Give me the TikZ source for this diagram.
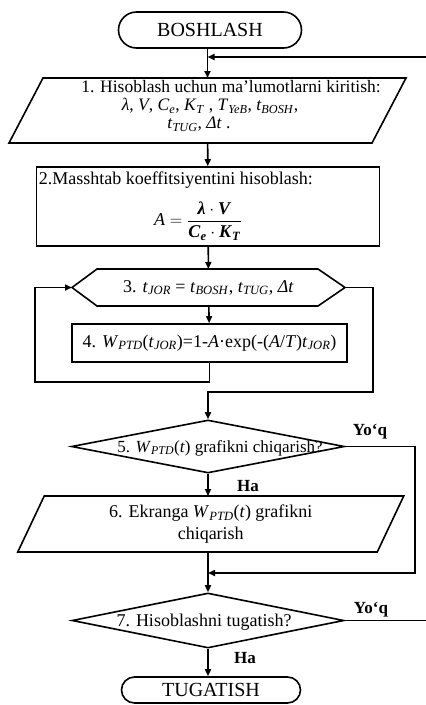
\documentclass[tikz,border=0pt]{standalone}
\usepackage{amsmath}
\usepackage{fontspec}
\setmainfont{Liberation Serif}
\usetikzlibrary{shapes.geometric,arrows.meta}

\newcommand{\isub}[2]{\textit{#1}\textsubscript{\textit{#2}}}
\newcommand{\bfit}[1]{\textbf{\textit{#1}}}

\begin{document}
\begin{tikzpicture}[
    x=1pt, y=-1pt,
    line width=1.6pt,
    font=\fontsize{18}{20}\selectfont,
    terminal/.style={draw, rectangle, inner sep=0pt, font=\fontsize{20}{22}\selectfont},
    io/.style={rectangle, inner sep=0pt, outer sep=0pt},
    process/.style={draw, rectangle, inner sep=0pt},
    decision/.style={draw, diamond, inner sep=2pt},
    flow/.style={-{Triangle[length=7pt,width=6pt]}},
    answer/.style={font=\bfseries\fontsize{17}{19}\selectfont}
  ]
  \useasboundingbox (0,0) rectangle (426,705);

  % Start and input of the data
  \node[terminal, minimum width=183pt, minimum height=36pt, rounded corners=18pt] (start) at (210,30) {BOSHLASH};
  \node[io, minimum width=363pt, minimum height=65pt] (input) at (207.5,110.5) {};
  \draw ([xshift=17pt]input.north west) -- ([xshift=17pt]input.north east)
    -- ([xshift=-17pt]input.south east) -- ([xshift=-17pt]input.south west) -- cycle;
  \node[anchor=north, inner sep=0pt, align=center, font=\fontsize{17.5}{18}\selectfont] (inputtxt) at (210,79.5)
    {\hspace*{42pt}1. Hisoblash uchun ma'lumotlarni kiritish:\\
     \textit{λ}, \textit{V}, \isub{C}{e}, \isub{K}{T} , \isub{T}{YeB}, \isub{t}{BOSH},\\
     \isub{t}{TUG}, \textit{Δt} .\hspace*{22pt}};

  % Scale coefficient
  \node[process, minimum width=343pt, minimum height=79pt] (scale) at (208,206.5) {};
  \node[anchor=west, inner sep=0pt] (scaletxt) at (38,180) {2.Masshtab koeffitsiyentini hisoblash:};
  \node (formula) at (198,221)
    {$\textit{A}=\dfrac{\bfit{λ}\cdot\bfit{V}}{\bfit{C}_{\bfit{e}}\cdot\bfit{K}_{\bfit{T}}}$};

  % Loop over the time
  \node[minimum width=273pt, minimum height=37pt, inner sep=0pt, outer sep=0pt] (loop) at (208.5,287.5)
    {3. \isub{t}{JOR} = \isub{t}{BOSH}, \isub{t}{TUG}, \textit{Δt}};
  \draw (loop.west) -- ([xshift=25pt]loop.north west) -- ([xshift=-27pt]loop.north east)
    -- (loop.east) -- ([xshift=-27pt]loop.south east) -- ([xshift=25pt]loop.south west) -- cycle;
  \node[process, minimum width=275pt, minimum height=38pt] (prob) at (209.5,343)
    {4. \isub{W}{PTD}(\isub{t}{JOR})=1-\textit{A}·exp(-(\textit{A}/\textit{T})\isub{t}{JOR})};

  % Output of the graph
  \node[decision, minimum width=273pt, minimum height=53pt] (showq) at (208,446.5) {};
  \node[font=\fontsize{17}{20}\selectfont] (showqtxt) at (220,448) {5. \isub{W}{PTD}(\textit{t}) grafikni chiqarish?};
  \node[io, minimum width=359.5pt, minimum height=56pt, align=center, font=\fontsize{18}{22}\selectfont] (show) at (210.75,524)
    {6. Ekranga \isub{W}{PTD}(\textit{t}) grafikni\\chiqarish};
  \draw ([xshift=13.25pt]show.north west) -- ([xshift=13.25pt]show.north east)
    -- ([xshift=-13.25pt]show.south east) -- ([xshift=-13.25pt]show.south west) -- cycle;

  % End of the calculation
  \node[decision, minimum width=272pt, minimum height=55pt] (endq) at (208,620.5) {};
  \node (endqtxt) at (204,622) {7. Hisoblashni tugatish?};
  \node[terminal, minimum width=179pt, minimum height=26pt, rounded corners=13pt] (stop) at (211,690) {TUGATISH};

  % Bends of the connectors
  \coordinate (back) at (426,57);
  \coordinate (lft) at (35,382);
  \coordinate (rgt) at (373,392);
  \coordinate (skip) at (415,573);

  % Connectors
  \draw[flow] (start.south -| input.north) -- (input.north);
  \draw[flow] (back) -- (back -| input.north);
  \draw[flow] (input) -- (scale);
  \draw[flow] (scale) -- (loop);
  \draw[flow] (loop) -- (prob);
  \draw[flow] (prob) -- (prob |- lft) -- (lft) |- (loop.west);
  \draw[flow] (loop.east) -| (rgt) -| (showq.north);
  \draw[flow] (showq) -- (showq.south |- show.north);
  \draw[flow] (showq.east) -| (skip) -- (skip -| showq.south);
  \draw[flow] (showq.south |- show.south) -- (endq.north);
  \draw (endq.east) -- (endq.east -| back);
  \draw[flow] (endq.south) -- (endq.south |- stop.north);

  % Answers
  \node[answer] (no5) at (370,432) {Yo‘q};
  \node[answer] (yes5) at (248,486) {Ha};
  \node[answer] (no7) at (371,610) {Yo‘q};
  \node[answer] (yes7) at (245,658) {Ha};
\end{tikzpicture}
\end{document}
